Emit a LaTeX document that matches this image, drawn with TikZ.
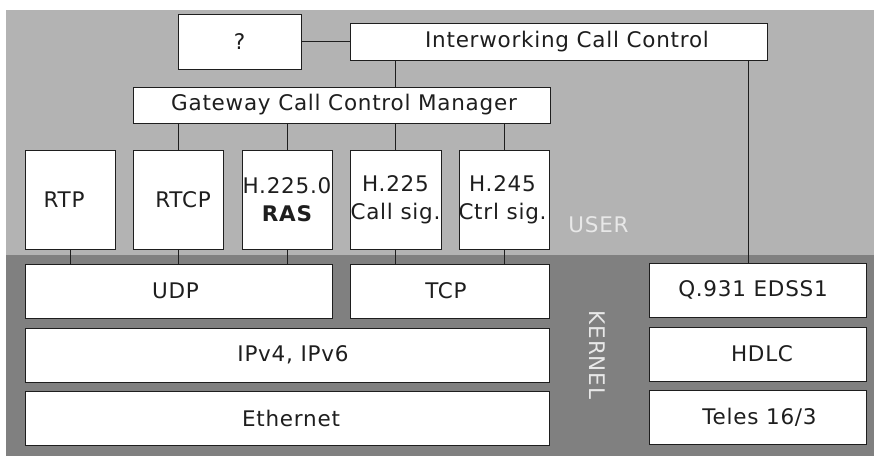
\documentclass[tikz,border=0pt]{standalone}
\usepackage{fontspec}
\setmainfont{DejaVu Sans}[LetterSpace=3.5]
\definecolor{userbg}{HTML}{B3B3B3}
\definecolor{kernelbg}{HTML}{808080}
\definecolor{ink}{HTML}{1E1E1E}
\definecolor{zonelabel}{HTML}{E8E8E8}
\begin{document}
\begin{tikzpicture}[x=1pt,y=-1pt,
  font=\fontsize{21.5}{28}\selectfont,
  layer/.style={draw=ink, line width=1pt, fill=white, text=ink,
    inner sep=0pt, align=center},
  % moves a label sideways inside its box
  nudge/.style={execute at begin node=\hspace*{#1},
                execute at end node=\hspace*{-#1}},
  wire/.style={draw=ink, line width=1pt},
  zone/.style={text=zonelabel, inner sep=0pt}]
\useasboundingbox (0,0) rectangle (874,456);
% user space and kernel space
\fill[userbg] (6,10) rectangle (874,255);
\fill[kernelbg] (6,255) rectangle (874,456);

% user-space modules
\node[layer, minimum width=123pt, minimum height=55pt] (q)    at (239.5,41.5) {?};
\node[layer, nudge=8.5pt, minimum width=417pt, minimum height=37pt] (icc)  at (558.5,41.5) {Interworking Call Control};
\node[layer, nudge=2.5pt, minimum width=417pt, minimum height=36pt] (gccm) at (341.5,105)  {Gateway Call Control Manager};
\node[layer, nudge=-6pt, minimum width=90pt, minimum height=99pt]  (rtp)  at (70,199.5)   {RTP};
\node[layer, nudge=5pt, minimum width=90pt, minimum height=99pt]  (rtcp) at (178,199.5)  {RTCP};
\node[layer, minimum width=90pt, minimum height=99pt]  (ras)  at (287,199.5)  {H.225.0\\\bfseries RAS};
\node[layer, minimum width=91pt, minimum height=99pt]  (call) at (395.5,199.5){H.225\\Call sig.};
\node[layer, nudge=-1.5pt, minimum width=90pt, minimum height=99pt]  (ctrl) at (504,199.5)  {H.245\\Ctrl sig.};

% kernel-space protocol stacks
\node[layer, nudge=-3pt, minimum width=307pt, minimum height=54pt] (udp)   at (178.5,291) {UDP};
\node[layer, nudge=-3.5pt, minimum width=199pt, minimum height=54pt] (tcp)   at (449.5,291) {TCP};
\node[layer, nudge=6pt, minimum width=524pt, minimum height=54pt] (ip)    at (287,355)   {IPv4, IPv6};
\node[layer, nudge=4pt, minimum width=524pt, minimum height=54pt] (eth)   at (287,418)   {Ethernet};
\node[layer, nudge=-4.5pt, minimum width=217pt, minimum height=54pt] (q931)  at (757.5,290) {Q.931 EDSS1};
\node[layer, nudge=4.5pt, minimum width=217pt, minimum height=54pt] (hdlc)  at (757.5,354) {HDLC};
\node[layer, nudge=2pt, minimum width=217pt, minimum height=54pt] (teles) at (757.5,417) {Teles 16/3};

% zone labels
\node[zone] (user) at (598.5,225) {USER};
\node[zone, rotate=-90] (kernel) at (597,355) {KERNEL};

% connections
\draw[wire] (q.east) -- (icc.west);
\draw[wire] (call.north |- icc.south) -- (call.north |- gccm.north);
\foreach \m in {rtcp,ras,call,ctrl}
  \draw[wire] (\m.north |- gccm.south) -- (\m.north);
\foreach \m in {rtp,rtcp,ras}
  \draw[wire] (\m.south) -- (\m.south |- udp.north);
\foreach \m in {call,ctrl}
  \draw[wire] (\m.south) -- (\m.south |- tcp.north);
\draw[wire] ([xshift=-8.8pt]q931.north |- icc.south) -- ([xshift=-8.8pt]q931.north);
\end{tikzpicture}
\end{document}
